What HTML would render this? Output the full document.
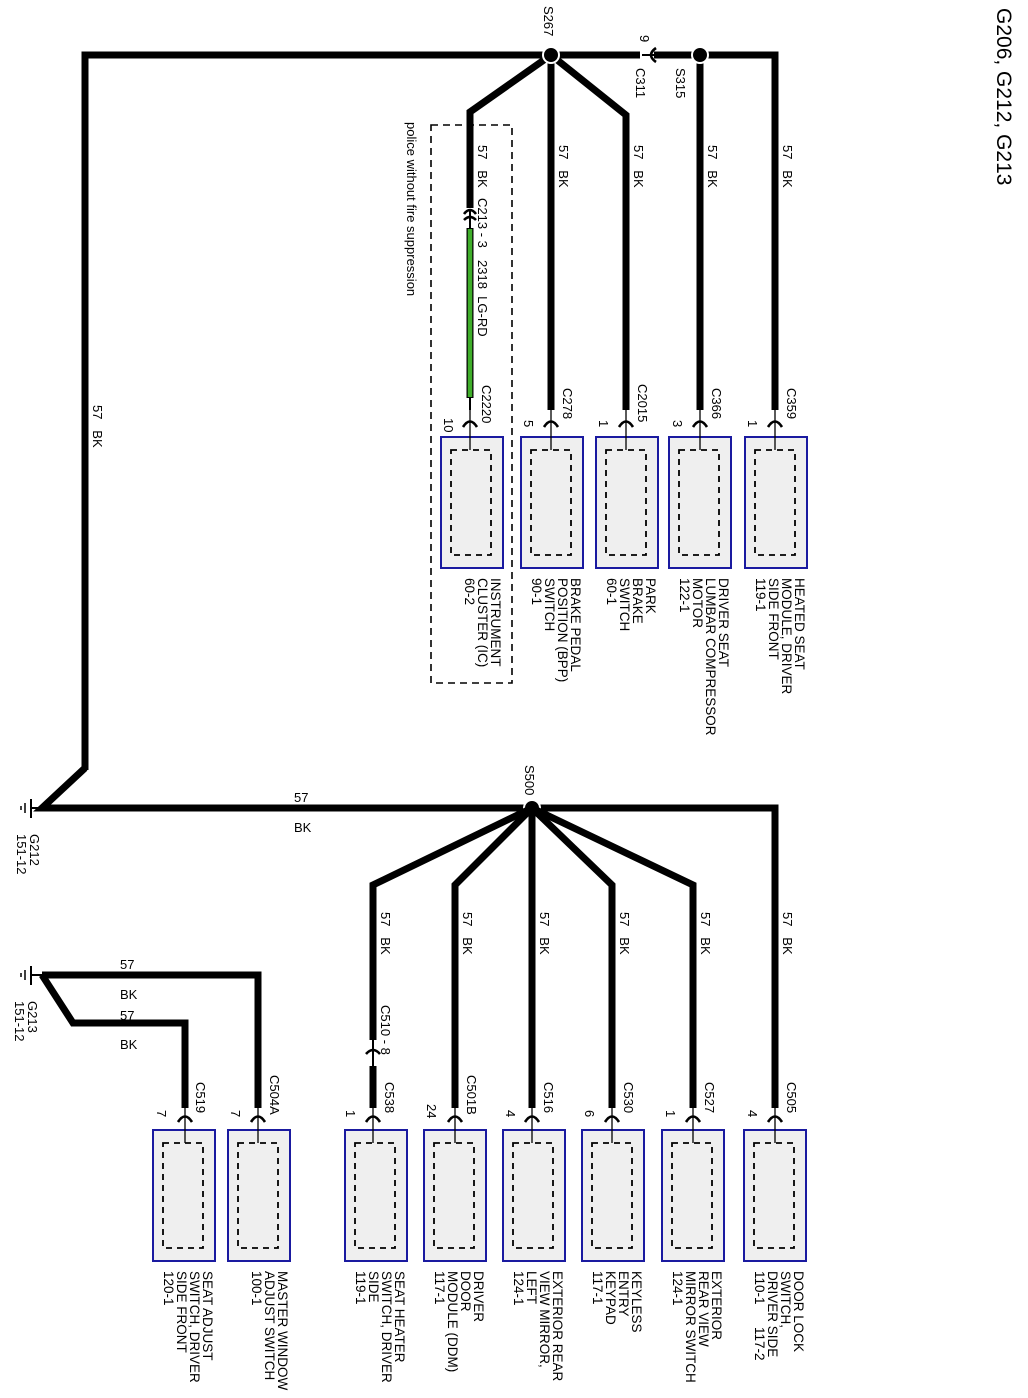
<!DOCTYPE html>
<html><head><meta charset="utf-8"><style>
html,body{margin:0;padding:0;background:#fff;}
svg{display:block;font-family:"Liberation Sans",Arial,sans-serif;}
text{white-space:pre;}
.w{stroke:#000;stroke-width:7;fill:none;stroke-linejoin:miter;}
.t{font-size:13.5px;fill:#000;}
.s{font-size:13px;fill:#000;}
.box{fill:#efefef;stroke:#1a1aa0;stroke-width:2;}
.in{fill:none;stroke:#000;stroke-width:1.8;stroke-dasharray:6,5;}
.pin{stroke:#000;stroke-width:1.3;fill:none;}
.ch{stroke:#000;stroke-width:2.6;fill:none;}
</style></head><body>
<svg width="1028" height="1398" viewBox="0 0 1028 1398" xmlns="http://www.w3.org/2000/svg" xml:space="preserve">
<text transform="translate(997,8) rotate(90)" style="font-size:21px">G206, G212, G213</text>

<polyline class="w" points="85,770 85,55 775,55 775,410"/>
<polyline class="w" points="85,768 42,808 532,808 775,808 775,1108"/>
<polyline class="w" points="551,55 470,112 470,208"/>
<line class="w" x1="551" y1="55" x2="551" y2="410"/>
<polyline class="w" points="551,55 626,115 626,410"/>
<line class="w" x1="700" y1="55" x2="700" y2="410"/>
<line x1="470" y1="228" x2="470" y2="398" stroke="#000" stroke-width="7"/>
<line x1="470" y1="229" x2="470" y2="397" stroke="#3fae2a" stroke-width="4.5"/>
<line x1="470" y1="397" x2="470" y2="410" stroke="#000" stroke-width="2"/>
<path class="ch" d="M464,214 Q470,206 476,214"/>
<path class="ch" d="M464,220 Q470,214 476,220"/>
<line x1="470" y1="210" x2="470" y2="228" stroke="#000" stroke-width="2"/>
<rect x="640" y="49" width="14" height="12" fill="#fff"/>
<line x1="642" y1="55" x2="662" y2="55" stroke="#000" stroke-width="2"/>
<path class="ch" d="M656,48 Q646,55 656,62"/>
<circle cx="551" cy="55" r="8" fill="#000" stroke="#fff" stroke-width="2"/>
<circle cx="700" cy="55" r="8" fill="#000" stroke="#fff" stroke-width="2"/>
<circle cx="532" cy="808" r="8" fill="#000" stroke="#fff" stroke-width="2"/>
<text class="s" transform="translate(544,6) rotate(90)">S267</text>
<text class="s" transform="translate(640,35) rotate(90)">9</text>
<text class="s" transform="translate(636,68) rotate(90)">C311</text>
<text class="s" transform="translate(676,68) rotate(90)">S315</text>
<text class="s" transform="translate(525,765) rotate(90)">S500</text>

<text class="s" transform="translate(478,145) rotate(90)">57   BK</text>
<text class="s" transform="translate(559,145) rotate(90)">57   BK</text>
<text class="s" transform="translate(634,145) rotate(90)">57   BK</text>
<text class="s" transform="translate(708,145) rotate(90)">57   BK</text>
<text class="s" transform="translate(783,145) rotate(90)">57   BK</text>
<text class="s" transform="translate(478,198) rotate(90)">C213 - 3</text>
<text class="s" transform="translate(478,260) rotate(90)">2318  LG-RD</text>
<text class="s" transform="translate(93,405) rotate(90)">57   BK</text>

<rect x="431" y="125" width="81" height="558" fill="none" stroke="#000" stroke-width="1.6" style="stroke-dasharray:7,5"/>
<text class="s" transform="translate(407,122) rotate(90)">police without fire suppression</text>

<g>
<rect class="box" x="441" y="437" width="62" height="131"/><rect class="in" x="451" y="450" width="40" height="105"/>
<rect class="box" x="521" y="437" width="62" height="131"/><rect class="in" x="531" y="450" width="40" height="105"/>
<rect class="box" x="596" y="437" width="62" height="131"/><rect class="in" x="606" y="450" width="40" height="105"/>
<rect class="box" x="669" y="437" width="62" height="131"/><rect class="in" x="679" y="450" width="40" height="105"/>
<rect class="box" x="745" y="437" width="62" height="131"/><rect class="in" x="755" y="450" width="40" height="105"/>
</g>
<g>
<line class="pin" x1="470" y1="410" x2="470" y2="450"/><path class="ch" d="M463,427 Q470,416 477,427"/>
<line class="pin" x1="551" y1="410" x2="551" y2="450"/><path class="ch" d="M544,427 Q551,416 558,427"/>
<line class="pin" x1="626" y1="410" x2="626" y2="450"/><path class="ch" d="M619,427 Q626,416 633,427"/>
<line class="pin" x1="700" y1="410" x2="700" y2="450"/><path class="ch" d="M693,427 Q700,416 707,427"/>
<line class="pin" x1="775" y1="410" x2="775" y2="450"/><path class="ch" d="M768,427 Q775,416 782,427"/>
</g>
<text class="s" transform="translate(482,385) rotate(90)">C2220</text>
<text class="s" transform="translate(444,418) rotate(90)">10</text>
<text class="s" transform="translate(563,388) rotate(90)">C278</text>
<text class="s" transform="translate(524,420) rotate(90)">5</text>
<text class="s" transform="translate(638,384) rotate(90)">C2015</text>
<text class="s" transform="translate(599,420) rotate(90)">1</text>
<text class="s" transform="translate(712,388) rotate(90)">C366</text>
<text class="s" transform="translate(673,420) rotate(90)">3</text>
<text class="s" transform="translate(787,388) rotate(90)">C359</text>
<text class="s" transform="translate(748,420) rotate(90)">1</text>

<g class="t">
<text transform="translate(491,578) rotate(90)"><tspan x="0">INSTRUMENT</tspan><tspan x="0" dy="13">CLUSTER (IC)</tspan><tspan x="0" dy="13">60-2</tspan></text>
<text transform="translate(571,578) rotate(90)"><tspan x="0">BRAKE PEDAL</tspan><tspan x="0" dy="13">POSITION (BPP)</tspan><tspan x="0" dy="13">SWITCH</tspan><tspan x="0" dy="13">90-1</tspan></text>
<text transform="translate(646,578) rotate(90)"><tspan x="0">PARK</tspan><tspan x="0" dy="13">BRAKE</tspan><tspan x="0" dy="13">SWITCH</tspan><tspan x="0" dy="13">60-1</tspan></text>
<text transform="translate(719,578) rotate(90)"><tspan x="0">DRIVER SEAT</tspan><tspan x="0" dy="13">LUMBAR COMPRESSOR</tspan><tspan x="0" dy="13">MOTOR</tspan><tspan x="0" dy="13">122-1</tspan></text>
<text transform="translate(795,578) rotate(90)"><tspan x="0">HEATED SEAT</tspan><tspan x="0" dy="13">MODULE, DRIVER</tspan><tspan x="0" dy="13">SIDE FRONT</tspan><tspan x="0" dy="13">119-1</tspan></text>
</g>

<line x1="31" y1="808" x2="44" y2="808" stroke="#000" stroke-width="2"/>
<line x1="31" y1="799" x2="31" y2="818" stroke="#000" stroke-width="2"/>
<line x1="25" y1="803" x2="25" y2="813" stroke="#000" stroke-width="1.5"/>
<line x1="21" y1="806" x2="21" y2="810" stroke="#000" stroke-width="1.5"/>
<text class="s" transform="translate(30,834) rotate(90)"><tspan x="0">G212</tspan><tspan x="0" dy="13">151-12</tspan></text>
<text class="s" x="294" y="802">57</text>
<text class="s" x="294" y="832">BK</text>

<polyline class="w" points="532,808 373,885 373,1040"/>
<polyline class="w" points="532,808 455,885 455,1108"/>
<line class="w" x1="532" y1="808" x2="532" y2="1108"/>
<polyline class="w" points="532,808 612,885 612,1108"/>
<polyline class="w" points="532,808 693,885 693,1108"/>
<line class="w" x1="373" y1="1066" x2="373" y2="1108"/>
<line x1="373" y1="1040" x2="373" y2="1066" stroke="#000" stroke-width="2"/>
<path class="ch" d="M366,1054 Q373,1046 380,1054"/>
<text class="s" transform="translate(381,1005) rotate(90)">C510 - 8</text>
<g>
<text class="s" transform="translate(381,912) rotate(90)">57   BK</text>
<text class="s" transform="translate(463,912) rotate(90)">57   BK</text>
<text class="s" transform="translate(540,912) rotate(90)">57   BK</text>
<text class="s" transform="translate(620,912) rotate(90)">57   BK</text>
<text class="s" transform="translate(701,912) rotate(90)">57   BK</text>
<text class="s" transform="translate(783,912) rotate(90)">57   BK</text>
</g>

<polyline class="w" points="42,975 258,975 258,1108"/>
<polyline class="w" points="42,975 73,1023 185,1023 185,1108"/>
<line x1="31" y1="975" x2="44" y2="975" stroke="#000" stroke-width="2"/>
<line x1="31" y1="966" x2="31" y2="985" stroke="#000" stroke-width="2"/>
<line x1="25" y1="970" x2="25" y2="980" stroke="#000" stroke-width="1.5"/>
<line x1="21" y1="973" x2="21" y2="977" stroke="#000" stroke-width="1.5"/>
<text class="s" transform="translate(28,1001) rotate(90)"><tspan x="0">G213</tspan><tspan x="0" dy="13">151-12</tspan></text>
<text class="s" x="120" y="969">57</text>
<text class="s" x="120" y="999">BK</text>
<text class="s" x="120" y="1020">57</text>
<text class="s" x="120" y="1049">BK</text>

<g>
<rect class="box" x="153" y="1130" width="62" height="131"/><rect class="in" x="163" y="1143" width="40" height="105"/>
<rect class="box" x="228" y="1130" width="62" height="131"/><rect class="in" x="238" y="1143" width="40" height="105"/>
<rect class="box" x="345" y="1130" width="62" height="131"/><rect class="in" x="355" y="1143" width="40" height="105"/>
<rect class="box" x="424" y="1130" width="62" height="131"/><rect class="in" x="434" y="1143" width="40" height="105"/>
<rect class="box" x="503" y="1130" width="62" height="131"/><rect class="in" x="513" y="1143" width="40" height="105"/>
<rect class="box" x="582" y="1130" width="62" height="131"/><rect class="in" x="592" y="1143" width="40" height="105"/>
<rect class="box" x="662" y="1130" width="62" height="131"/><rect class="in" x="672" y="1143" width="40" height="105"/>
<rect class="box" x="744" y="1130" width="62" height="131"/><rect class="in" x="754" y="1143" width="40" height="105"/>
</g>
<g>
<line class="pin" x1="185" y1="1108" x2="185" y2="1143"/><path class="ch" d="M178,1122 Q185,1111 192,1122"/>
<line class="pin" x1="258" y1="1108" x2="258" y2="1143"/><path class="ch" d="M251,1122 Q258,1111 265,1122"/>
<line class="pin" x1="373" y1="1108" x2="373" y2="1143"/><path class="ch" d="M366,1122 Q373,1111 380,1122"/>
<line class="pin" x1="455" y1="1108" x2="455" y2="1143"/><path class="ch" d="M448,1122 Q455,1111 462,1122"/>
<line class="pin" x1="532" y1="1108" x2="532" y2="1143"/><path class="ch" d="M525,1122 Q532,1111 539,1122"/>
<line class="pin" x1="612" y1="1108" x2="612" y2="1143"/><path class="ch" d="M605,1122 Q612,1111 619,1122"/>
<line class="pin" x1="693" y1="1108" x2="693" y2="1143"/><path class="ch" d="M686,1122 Q693,1111 700,1122"/>
<line class="pin" x1="775" y1="1108" x2="775" y2="1143"/><path class="ch" d="M768,1122 Q775,1111 782,1122"/>
</g>
<g class="s">
<text transform="translate(196,1082) rotate(90)">C519</text><text transform="translate(157,1110) rotate(90)">7</text>
<text transform="translate(270,1075) rotate(90)">C504A</text><text transform="translate(231,1110) rotate(90)">7</text>
<text transform="translate(385,1082) rotate(90)">C538</text><text transform="translate(346,1110) rotate(90)">1</text>
<text transform="translate(467,1075) rotate(90)">C501B</text><text transform="translate(427,1104) rotate(90)">24</text>
<text transform="translate(544,1082) rotate(90)">C516</text><text transform="translate(506,1110) rotate(90)">4</text>
<text transform="translate(624,1082) rotate(90)">C530</text><text transform="translate(585,1110) rotate(90)">6</text>
<text transform="translate(705,1082) rotate(90)">C527</text><text transform="translate(666,1110) rotate(90)">1</text>
<text transform="translate(787,1082) rotate(90)">C505</text><text transform="translate(748,1110) rotate(90)">4</text>
</g>
<g class="t">
<text transform="translate(203,1271) rotate(90)"><tspan x="0">SEAT ADJUST</tspan><tspan x="0" dy="13">SWITCH, DRIVER</tspan><tspan x="0" dy="13">SIDE FRONT</tspan><tspan x="0" dy="13">120-1</tspan></text>
<text transform="translate(278,1271) rotate(90)"><tspan x="0">MASTER WINDOW</tspan><tspan x="0" dy="13">ADJUST SWITCH</tspan><tspan x="0" dy="13">100-1</tspan></text>
<text transform="translate(395,1271) rotate(90)"><tspan x="0">SEAT HEATER</tspan><tspan x="0" dy="13">SWITCH, DRIVER</tspan><tspan x="0" dy="13">SIDE</tspan><tspan x="0" dy="13">119-1</tspan></text>
<text transform="translate(474,1271) rotate(90)"><tspan x="0">DRIVER</tspan><tspan x="0" dy="13">DOOR</tspan><tspan x="0" dy="13">MODULE (DDM)</tspan><tspan x="0" dy="13">117-1</tspan></text>
<text transform="translate(553,1271) rotate(90)"><tspan x="0">EXTERIOR REAR</tspan><tspan x="0" dy="13">VIEW MIRROR,</tspan><tspan x="0" dy="13">LEFT</tspan><tspan x="0" dy="13">124-1</tspan></text>
<text transform="translate(632,1271) rotate(90)"><tspan x="0">KEYLESS</tspan><tspan x="0" dy="13">ENTRY</tspan><tspan x="0" dy="13">KEYPAD</tspan><tspan x="0" dy="13">117-1</tspan></text>
<text transform="translate(712,1271) rotate(90)"><tspan x="0">EXTERIOR</tspan><tspan x="0" dy="13">REAR VIEW</tspan><tspan x="0" dy="13">MIRROR SWITCH</tspan><tspan x="0" dy="13">124-1</tspan></text>
<text transform="translate(794,1271) rotate(90)"><tspan x="0">DOOR LOCK</tspan><tspan x="0" dy="13">SWITCH,</tspan><tspan x="0" dy="13">DRIVER SIDE</tspan><tspan x="0" dy="13">110-1      117-2</tspan></text>
</g>
</svg>
</body></html>
